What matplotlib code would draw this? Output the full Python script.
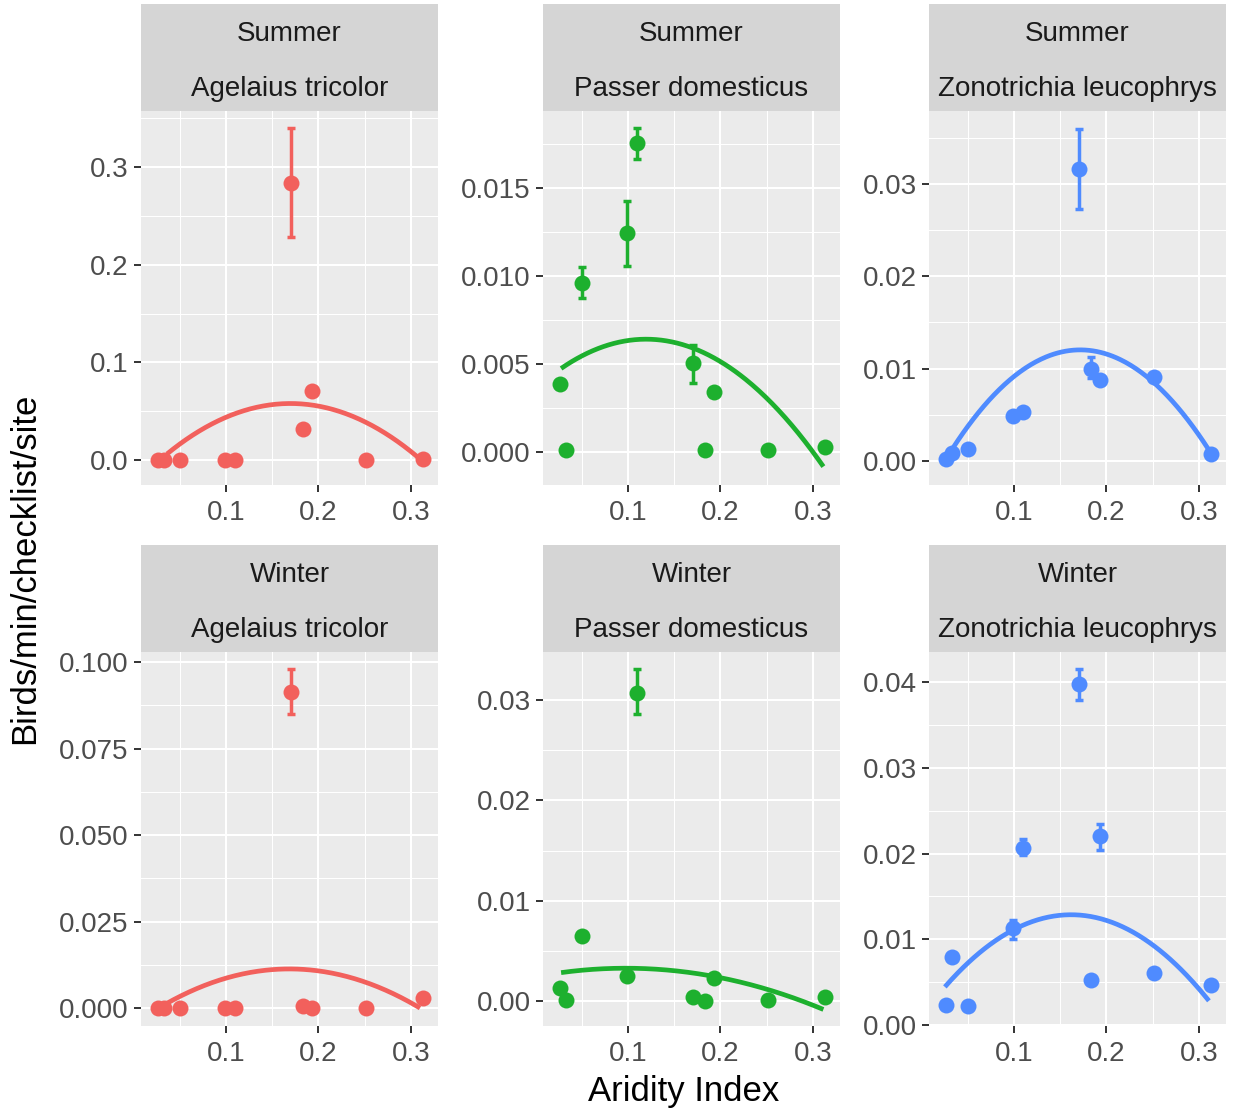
import numpy as np
import matplotlib
matplotlib.use("Agg")
import matplotlib.pyplot as plt
from matplotlib.ticker import FixedLocator, StrMethodFormatter

plt.rcParams["font.family"] = ["Liberation Sans", "DejaVu Sans"]

# site aridity index (x), shared by every panel
aridity = [0.026, 0.033, 0.050, 0.099, 0.110, 0.170, 0.183, 0.193, 0.252, 0.313]

seasons = ["Summer", "Summer", "Summer", "Winter", "Winter", "Winter"]
species = ["Agelaius tricolor", "Passer domesticus", "Zonotrichia leucophrys",
           "Agelaius tricolor", "Passer domesticus", "Zonotrichia leucophrys"]

# mean birds/min/checklist/site per site
summer_agtr = [0.0, 0.0, 0.0, 0.0, 0.0, 0.2835, 0.032, 0.071, 0.0, 0.001]
summer_pado = [0.00386, 0.0001, 0.00958, 0.01242, 0.01754, 0.00504, 0.0001, 0.00343, 0.0001, 0.00027]
summer_zole = [0.0002, 0.0009, 0.0013, 0.0049, 0.0053, 0.0316, 0.0100, 0.0088, 0.0091, 0.0008]
winter_agtr = [0.0, 0.0, 0.0, 0.0, 0.0, 0.0914, 0.0005, 0.0, 0.0, 0.003]
winter_pado = [0.00127, 0.0001, 0.0065, 0.0025, 0.0307, 0.0004, 0.0, 0.0023, 0.0001, 0.0004]
winter_zole = [0.0024, 0.0080, 0.0022, 0.0113, 0.0207, 0.0398, 0.0053, 0.0220, 0.0061, 0.0047]

# visible error bars: site index -> (low, high)
summer_agtr_err = {5: (0.229, 0.340)}
summer_pado_err = {2: (0.00873, 0.0105), 3: (0.01057, 0.01428),
                   4: (0.01663, 0.01839), 5: (0.00394, 0.00608)}
summer_zole_err = {5: (0.0273, 0.0360), 6: (0.0090, 0.0113)}
winter_agtr_err = {5: (0.0849, 0.098)}
winter_pado_err = {4: (0.0286, 0.0331)}
winter_zole_err = {3: (0.0101, 0.0123), 4: (0.0198, 0.0217),
                   5: (0.0379, 0.0415), 7: (0.0204, 0.0234)}

summer_agtr_fit_x = [0.036, 0.10, 0.17, 0.252, 0.312]
summer_agtr_fit_y = [0.006, 0.044, 0.0587, 0.037, 0.000]
summer_pado_fit_x = [0.0274, 0.119, 0.171, 0.3115]
summer_pado_fit_y = [0.00475, 0.0064, 0.0059, -0.00083]
summer_zole_fit_x = [0.032, 0.10, 0.17, 0.252, 0.312]
summer_zole_fit_y = [0.0015, 0.0085, 0.0120, 0.0092, 0.0006]
winter_agtr_fit_x = [0.035, 0.10, 0.17, 0.252, 0.31]
winter_agtr_fit_y = [0.0015, 0.0078, 0.0122, 0.0069, 0.0001]
winter_pado_fit_x = [0.0274, 0.10, 0.192, 0.2525, 0.3115]
winter_pado_fit_y = [0.0028, 0.0033, 0.0025, 0.0010, -0.0008]
winter_zole_fit_x = [0.025, 0.098, 0.163, 0.252, 0.311]
winter_zole_fit_y = [0.0043, 0.0113, 0.0130, 0.0087, 0.0031]

values = [summer_agtr, summer_pado, summer_zole, winter_agtr, winter_pado, winter_zole]
errors = [summer_agtr_err, summer_pado_err, summer_zole_err,
          winter_agtr_err, winter_pado_err, winter_zole_err]
fits = [(summer_agtr_fit_x, summer_agtr_fit_y), (summer_pado_fit_x, summer_pado_fit_y),
        (summer_zole_fit_x, summer_zole_fit_y), (winter_agtr_fit_x, winter_agtr_fit_y),
        (winter_pado_fit_x, winter_pado_fit_y), (winter_zole_fit_x, winter_zole_fit_y)]

x_ticks = [0.1, 0.2, 0.3]
y_ticks = [[0.0, 0.1, 0.2, 0.3],
           [0.000, 0.005, 0.010, 0.015],
           [0.00, 0.01, 0.02, 0.03],
           [0.000, 0.025, 0.050, 0.075, 0.100],
           [0.00, 0.01, 0.02, 0.03],
           [0.00, 0.01, 0.02, 0.03, 0.04]]
y_decimals = [1, 3, 2, 3, 2, 2]
y_limits = [(-0.0256, 0.3576), (-0.001875, 0.01938), (-0.0026, 0.0379),
            (-0.0052, 0.1029), (-0.0025, 0.0348), (-0.0001, 0.0435)]
x_limits = (0.0078, 0.3295)

colors = ["#F2605C", "#1DB02E", "#4F8BFF"]

W, H = 1233, 1109
fig = plt.figure(figsize=(W / 100, H / 100), dpi=100)

col_left = [141, 543, 929]
panel_w = 297
row_top = [111, 652]
panel_h = 374
strip_h = 107


def frac(left, top, w, h):
    return [left / W, 1 - (top + h) / H, w / W, h / H]


def minor_between(ticks, lim):
    step = ticks[1] - ticks[0]
    start = ticks[0] - step / 2
    out = []
    v = start
    while v <= lim[1]:
        if v >= lim[0] and not any(abs(v - t) < step * 1e-3 for t in ticks):
            out.append(v)
        v += step / 2
    return out


for i in range(6):
    r, c = divmod(i, 3)
    ax = fig.add_axes(frac(col_left[c], row_top[r], panel_w, panel_h))
    ax.set_facecolor("#EBEBEB")
    for s in ax.spines.values():
        s.set_visible(False)

    col = colors[c]
    y = values[i]
    ax.plot(aridity, y, "o", color=col, markersize=11.5, zorder=4, markeredgewidth=0)
    for k, (lo, hi) in errors[i].items():
        ax.errorbar([aridity[k]], [y[k]], yerr=[[y[k] - lo], [hi - y[k]]], fmt="none",
                    ecolor=col, elinewidth=2.5, capsize=2.6, capthick=2.5, zorder=3)

    fx, fy = fits[i]
    coef = np.polyfit(fx, fy, 2)
    xs = np.linspace(fx[0], fx[-1], 200)
    ax.plot(xs, np.polyval(coef, xs), color=col, lw=3.4, zorder=5,
            solid_capstyle="butt")

    ax.set_xlim(*x_limits)
    ax.set_ylim(*y_limits[i])
    ax.xaxis.set_major_locator(FixedLocator(x_ticks))
    ax.xaxis.set_major_formatter(StrMethodFormatter("{x:.1f}"))
    ax.yaxis.set_major_locator(FixedLocator(y_ticks[i]))
    ax.yaxis.set_major_formatter(StrMethodFormatter("{x:.%df}" % y_decimals[i]))
    ax.xaxis.set_minor_locator(FixedLocator(minor_between(x_ticks, x_limits)))
    ax.yaxis.set_minor_locator(FixedLocator(minor_between(y_ticks[i], y_limits[i])))
    ax.grid(which="major", color="white", lw=1.5)
    ax.grid(which="minor", color="white", lw=0.75)
    ax.set_axisbelow(True)
    ax.tick_params(which="major", length=5, width=1.4, color="#333333",
                   labelsize=20, labelcolor="#4D4D4D", pad=4)
    ax.tick_params(axis="x", which="major", pad=6)
    ax.tick_params(which="minor", length=0)

    st = fig.add_axes(frac(col_left[c], row_top[r] - strip_h, panel_w, strip_h))
    st.set_facecolor("#D5D5D5")
    st.set_xticks([])
    st.set_yticks([])
    for s in st.spines.values():
        s.set_visible(False)
    st.text(0.5, 0.715, seasons[i], ha="center", va="center", fontsize=20,
            color="#1A1A1A", transform=st.transAxes)
    st.text(0.5, 0.21, species[i], ha="center", va="center", fontsize=20,
            color="#1A1A1A", transform=st.transAxes)

fig.text(683.5 / W, 1 - 1092 / H, "Aridity Index", ha="center", va="center", fontsize=25)
fig.text(25 / W, 1 - 568 / H, "Birds/min/checklist/site", ha="center", va="center",
         rotation=90, fontsize=25)

fig.savefig("out.png", dpi=100)
